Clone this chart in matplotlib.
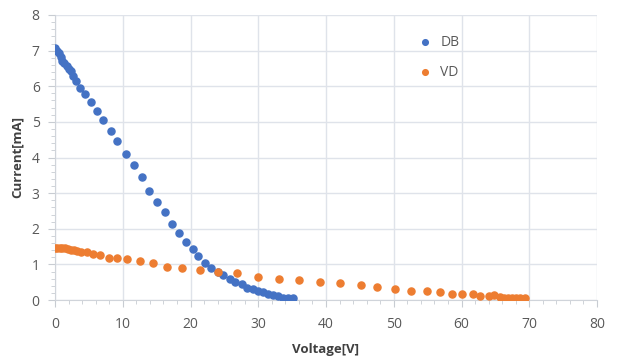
import matplotlib
matplotlib.use("Agg")
import matplotlib.pyplot as plt
from matplotlib.ticker import MultipleLocator

# DB series
db_v = [0.0, 0.3, 0.6, 0.9, 1.1, 1.4, 1.8, 2.1, 2.3, 2.7, 3.1, 3.7, 4.5, 5.3,
        6.2, 7.1, 8.2, 9.2, 10.5, 11.6, 12.8, 13.9, 15.1, 16.2, 17.2, 18.3,
        19.3, 20.3, 21.1, 22.2, 23.0, 24.0, 24.8, 25.8, 26.6, 27.6, 28.4,
        29.2, 30.0, 30.7, 31.5, 32.2, 32.9, 33.7, 34.4, 35.1]
db_i = [7.08, 6.99, 6.92, 6.83, 6.72, 6.64, 6.58, 6.48, 6.43, 6.29, 6.15, 5.94,
        5.79, 5.55, 5.31, 5.06, 4.75, 4.47, 4.11, 3.78, 3.44, 3.06, 2.76, 2.48,
        2.13, 1.87, 1.63, 1.42, 1.24, 1.05, 0.89, 0.78, 0.69, 0.59, 0.50, 0.44,
        0.35, 0.30, 0.25, 0.22, 0.18, 0.13, 0.10, 0.07, 0.06, 0.06]

# VD series
vd_v = [0.0, 0.3, 0.7, 1.1, 1.5, 1.9, 2.3, 2.8, 3.3, 3.9, 4.7, 5.6, 6.6, 7.9,
        9.2, 10.7, 12.5, 14.4, 16.5, 18.8, 21.4, 24.0, 26.9, 30.0, 33.1, 36.0,
        39.1, 42.1, 45.1, 47.6, 50.2, 52.6, 54.9, 56.8, 58.6, 60.1, 61.7, 62.8,
        64.0, 64.8, 65.7, 66.3, 66.9, 67.5, 68.1, 68.7, 69.3]
vd_i = [1.45, 1.45, 1.45, 1.45, 1.45, 1.44, 1.40, 1.40, 1.38, 1.35, 1.35, 1.30,
        1.26, 1.19, 1.19, 1.14, 1.10, 1.05, 0.94, 0.90, 0.85, 0.79, 0.75, 0.64,
        0.60, 0.55, 0.51, 0.47, 0.41, 0.37, 0.32, 0.26, 0.26, 0.22, 0.16, 0.16,
        0.17, 0.11, 0.12, 0.13, 0.08, 0.07, 0.07, 0.07, 0.07, 0.07, 0.07]

plt.rcParams["font.family"] = ["Open Sans", "DejaVu Sans"]

fig = plt.figure(figsize=(6.17, 3.56), dpi=100)
ax = fig.add_axes([55 / 617, 1 - 300 / 356, 542 / 617, 285 / 356])

ax.scatter(db_v, db_i, s=26, color="#4472C4", label="DB", zorder=3)
ax.scatter(vd_v, vd_i, s=26, color="#ED7D31", label="VD", zorder=3)

ax.set_xlim(0, 80)
ax.set_ylim(0, 8)
ax.xaxis.set_major_locator(MultipleLocator(10))
ax.xaxis.set_minor_locator(MultipleLocator(2))
ax.yaxis.set_major_locator(MultipleLocator(1))
ax.yaxis.set_minor_locator(MultipleLocator(0.2))

ax.grid(True, which="major", color="#dfe3ea", linewidth=1)
ax.set_axisbelow(True)
for side in ("top", "right"):
    ax.spines[side].set_visible(False)
for side in ("left", "bottom"):
    ax.spines[side].set_color("#d0d4da")
ax.tick_params(which="both", colors="#c8ccd2", labelcolor="#595959",
               labelsize=10)
ax.tick_params(which="major", length=5)
ax.tick_params(which="minor", length=3)
ax.tick_params(axis="x", which="major", pad=7)
ax.tick_params(axis="y", which="major", pad=6)

ax.set_xlabel("Voltage[V]", fontsize=9.5, fontweight="bold", color="#404040",
              labelpad=8)
ax.set_ylabel("Current[mA]", fontsize=9.5, fontweight="bold", color="#404040",
              labelpad=6)

leg = ax.legend(loc="upper left", bbox_to_anchor=(0.634, 0.975), frameon=False,
                fontsize=10, handletextpad=0.1, labelspacing=1.1,
                markerscale=0.8)
for t in leg.get_texts():
    t.set_color("#595959")

fig.savefig("out.png", dpi=100)
